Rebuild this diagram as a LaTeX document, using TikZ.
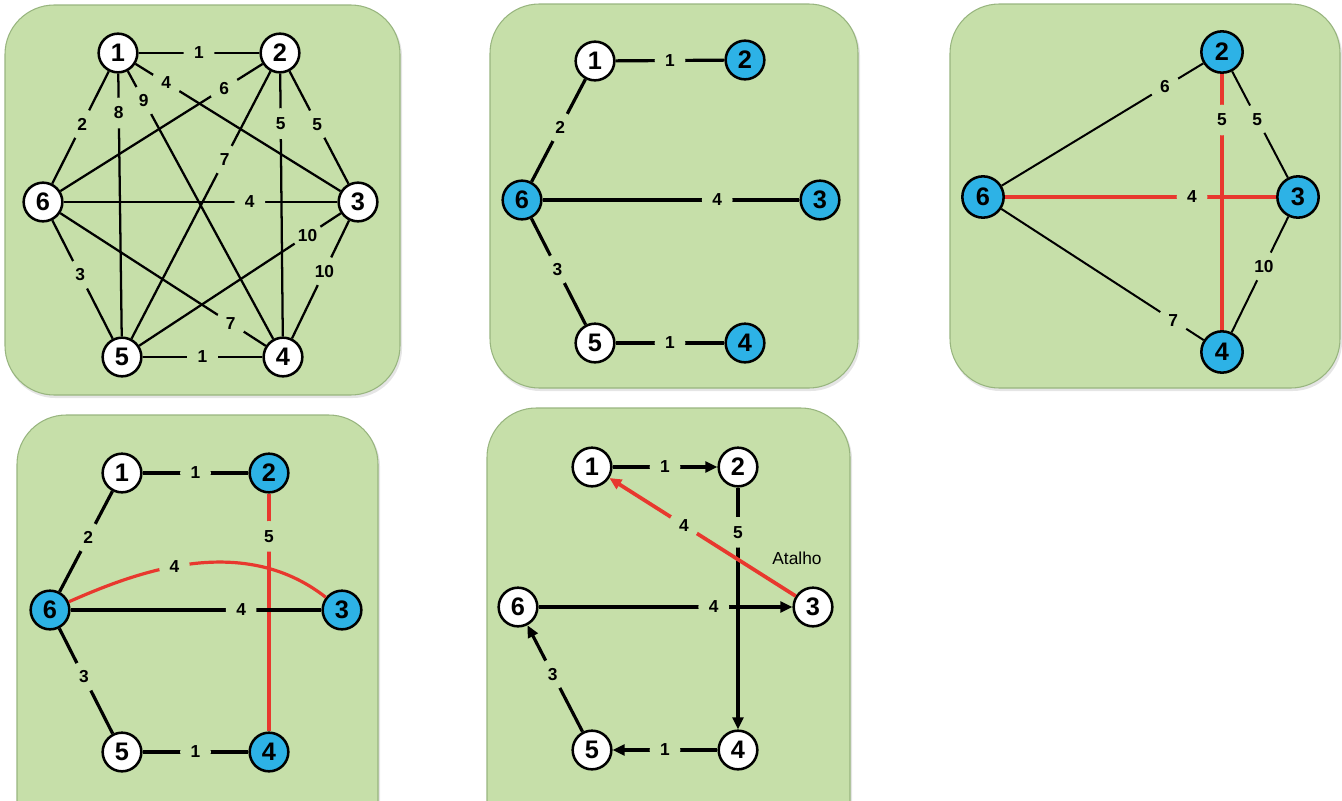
\documentclass[tikz,border=0pt]{standalone}
\usepackage{fontspec}
\setmainfont{Liberation Sans}
\usetikzlibrary{arrows.meta}

\definecolor{panelgreen}{HTML}{C6DFA9}
\definecolor{paneledge}{HTML}{98B57F}
\definecolor{vblue}{HTML}{2DB2E6}
\definecolor{ered}{HTML}{E8382E}

\begin{document}
\begin{tikzpicture}[x=0.75pt,y=-0.75pt,
  panel/.style={fill=panelgreen,draw=paneledge,line width=0.8pt,rounded corners=37pt},
  pshadow/.style={fill=black!10,rounded corners=37pt},
  vtx/.style={circle,draw=black,line width=1.9pt,fill=white,minimum size=29pt,inner sep=0pt,
    font=\fontsize{19}{19}\selectfont\bfseries},
  bvtx/.style={vtx,fill=vblue},
  w/.style={circle,fill=panelgreen,inner sep=0pt,minimum size=23pt,
    font=\fontsize{13}{13}\selectfont\bfseries},
  eone/.style={line width=1.7pt,draw=black},
  ethick/.style={line width=2.4pt,draw=black},
  eslim/.style={line width=1.5pt,draw=black},
  ered/.style={line width=2.8pt,draw=ered},
  tip/.style={-{Triangle[length=9pt,width=8pt]}},
]
\useasboundingbox (0,0) rectangle (1342,800);
\clip (0,0) rectangle (1342,800);

% panels
\foreach \xa/\ya/\xb/\yb in {5/5/400/395, 490/4/858/388, 950/4/1340/388, 17/415/378/850, 487/408/850/850}{
  \fill[pshadow] (\xa+1,\ya+2) rectangle (\xb+2,\yb+3);
  \path[panel] (\xa,\ya) rectangle (\xb,\yb);
}

% ---- complete graph ----
\node[vtx] (a1) at (118,53) {1};
\node[vtx] (a2) at (280,53) {2};
\node[vtx] (a3) at (358,202) {3};
\node[vtx] (a4) at (283,357) {4};
\node[vtx] (a5) at (122,357) {5};
\node[vtx] (a6) at (43,202) {6};
\draw[eone] (a1) -- node[w]{1} (a2);
\draw[eone] (a1) -- node[w,pos=.47]{2} (a6);
\draw[eone] (a1) -- node[w,pos=.15]{8} (a5);
\draw[eone] (a1) -- node[w,pos=.11]{9} (a4);
\draw[eone] (a1) -- node[w,pos=.15]{4} (a3);
\draw[eone] (a2) -- node[w,pos=.19]{6} (a6);
\draw[eone] (a2) -- node[w,pos=.33]{7} (a5);
\draw[eone] (a2) -- node[w,pos=.19]{5} (a4);
\draw[eone] (a2) -- node[w,pos=.47]{5} (a3);
\draw[eone] (a6) -- node[w,pos=.68]{4} (a3);
\draw[eone] (a3) -- node[w,pos=.165]{10} (a5);
\draw[eone] (a3) -- node[w,pos=.43]{10} (a4);
\draw[eone] (a6) -- node[w,pos=.46]{3} (a5);
\draw[eone] (a6) -- node[w,pos=.83]{7} (a4);
\draw[eone] (a5) -- node[w]{1} (a4);

% ---- minimum spanning tree ----
\node[vtx]  (b1) at (595,61) {1};
\node[bvtx] (b2) at (745,60) {2};
\node[bvtx] (b3) at (820,200) {3};
\node[bvtx] (b4) at (745,343) {4};
\node[vtx]  (b5) at (595,343) {5};
\node[bvtx] (b6) at (522,200) {6};
\draw[ethick] (b1) -- node[w]{1} (b2);
\draw[ethick] (b1) -- node[w,pos=.47]{2} (b6);
\draw[ethick] (b6) -- node[w,pos=.68]{4} (b3);
\draw[ethick] (b6) -- node[w,pos=.48]{3} (b5);
\draw[ethick] (b5) -- node[w]{1} (b4);

% ---- odd-degree vertices and matching ----
\node[bvtx,minimum size=31pt] (c2) at (1222,52) {2};
\node[bvtx,minimum size=31pt] (c3) at (1298,197) {3};
\node[bvtx,minimum size=31pt] (c4) at (1222,352) {4};
\node[bvtx,minimum size=31pt] (c6) at (983,197) {6};
\draw[eslim] (c6) -- node[w,pos=.81]{6} (c2);
\draw[eslim] (c2) -- node[w,pos=.45]{5} (c3);
\draw[eslim] (c3) -- node[w,pos=.43]{10} (c4);
\draw[eslim] (c6) -- node[w,pos=.85]{7} (c4);
\draw[ered] (c6) -- node[w,pos=.69]{4} (c3);
\draw[ered] (c2) -- node[w,pos=.18]{5} (c4);

% ---- multigraph ----
\node[vtx]  (d1) at (122,473) {1};
\node[bvtx] (d2) at (269,473) {2};
\node[bvtx] (d3) at (342,610) {3};
\node[bvtx] (d4) at (269,752) {4};
\node[vtx]  (d5) at (122,752) {5};
\node[bvtx] (d6) at (50,610) {6};
\draw[ethick] (d1) -- node[w]{1} (d2);
\draw[ethick] (d1) -- node[w,pos=.46]{2} (d6);
\draw[ethick] (d6) -- node[w,pos=.46]{3} (d5);
\draw[ethick] (d5) -- node[w]{1} (d4);
\draw[ered] (d2) -- node[w,pos=.18]{5} (d4);
\draw[ethick] (d6) -- node[w,pos=.68]{4} (d3);
\draw[ered,line width=2.4pt] (d6) .. controls (130,575) and (240,530) .. node[w,pos=.45]{4} (d3);

% ---- Euler tour and shortcut ----
\node[vtx] (f1) at (592,467) {1};
\node[vtx] (f2) at (738,467) {2};
\node[vtx] (f3) at (813,607) {3};
\node[vtx] (f4) at (738,750) {4};
\node[vtx] (f5) at (592,750) {5};
\node[vtx] (f6) at (518,607) {6};
\draw[ethick,tip] (f1) -- node[w]{1} (f2);
\draw[ethick,tip] (f2) -- node[w,pos=.185]{5} (f4);
\draw[ethick,tip] (f6) -- node[w,pos=.69]{4} (f3);
\draw[ethick,tip] (f4) -- node[w]{1} (f5);
\draw[ethick,tip] (f5) -- node[w,pos=.54]{3} (f6);
\draw[ered,tip] (f3) -- node[w,pos=.6]{4} (f1);
\node[font=\fontsize{13}{13}\selectfont] (atalho) at (797,558) {Atalho};
\end{tikzpicture}
\end{document}
